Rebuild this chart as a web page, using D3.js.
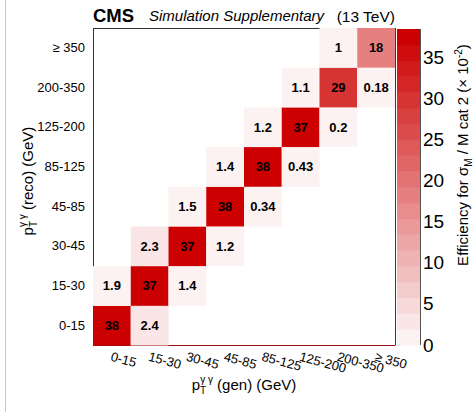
<!DOCTYPE html>
<html>
<head>
<meta charset="utf-8">
<script src="https://cdn.jsdelivr.net/npm/d3@7"></script>
<style>
  html, body { margin: 0; padding: 0; background: #fff; }
  svg { display: block; font-family: "Liberation Sans", Arial, Helvetica, sans-serif; }
</style>
</head>
<body>
<svg id="chart" width="474" height="412"></svg>
<script>
// ---- data ----
const genBins  = ["0-15", "15-30", "30-45", "45-85", "85-125", "125-200", "200-350", "\u2265 350"];
const recoBins = ["0-15", "15-30", "30-45", "45-85", "85-125", "125-200", "200-350", "\u2265 350"];
// efficiency (x 10^-2); rows = reco bins (bottom -> top), columns = gen bins
const row0 = [38, 2.4, 0, 0, 0, 0, 0, 0];
const row1 = [1.9, 37, 1.4, 0, 0, 0, 0, 0];
const row2 = [0, 2.3, 37, 1.2, 0, 0, 0, 0];
const row3 = [0, 0, 1.5, 38, 0.34, 0, 0, 0];
const row4 = [0, 0, 0, 1.4, 38, 0.43, 0, 0];
const row5 = [0, 0, 0, 0, 1.2, 37, 0.2, 0];
const row6 = [0, 0, 0, 0, 0, 1.1, 29, 0.18];
const row7 = [0, 0, 0, 0, 0, 0, 1, 18];
const efficiency = [row0, row1, row2, row3, row4, row5, row6, row7];
const colorTicks = [0, 5, 10, 15, 20, 25, 30, 35];
const zMax = 38.4;
const nLevels = 20;

// ---- layout ----
const svg = d3.select("#chart");
const L = 93, R = 395, T = 28, B = 345.5;
const cbL = 397, cbR = 420, cbT = 29, cbB = 345;

const x = d3.scaleBand().domain(genBins).range([L, R]).padding(0);
const y = d3.scaleBand().domain(recoBins).range([B, T]).padding(0);

const levelColors = d3.range(nLevels).map(i => d3.interpolateRgb("#ffffff", "#cc0000")((i + 1) / nLevels));
const color = d3.scaleQuantize().domain([0, zMax]).range(levelColors);

// faint page border line
svg.append("line").attr("x1", 5.5).attr("x2", 5.5).attr("y1", 0).attr("y2", 412)
  .attr("stroke", "#c8c8c8").attr("stroke-width", 1);

// frame
svg.append("line").attr("x1", L).attr("x2", R).attr("y1", T + 0.5).attr("y2", T + 0.5).attr("stroke", "#333");
svg.append("line").attr("x1", L + 0.5).attr("x2", L + 0.5).attr("y1", T).attr("y2", B).attr("stroke", "#333");
svg.append("line").attr("x1", L).attr("x2", R).attr("y1", B).attr("y2", B).attr("stroke", "#9a1010");
svg.append("line").attr("x1", R + 0.5).attr("x2", R + 0.5).attr("y1", T).attr("y2", B).attr("stroke", "#9a1010");

// cells
const cells = [];
efficiency.forEach((row, ri) => row.forEach((v, ci) => {
  if (v > 0) cells.push({ reco: recoBins[ri], gen: genBins[ci], v });
}));

svg.append("g").selectAll("rect").data(cells).join("rect")
  .attr("x", d => x(d.gen))
  .attr("y", d => y(d.reco))
  .attr("width", x.bandwidth())
  .attr("height", y.bandwidth())
  .attr("fill", d => color(d.v));

svg.append("g").selectAll("text").data(cells).join("text")
  .attr("x", d => x(d.gen) + x.bandwidth() / 2)
  .attr("y", d => y(d.reco) + y.bandwidth() / 2 + 4.5)
  .attr("text-anchor", "middle")
  .attr("font-size", 13).attr("font-weight", "bold").attr("fill", "#000")
  .text(d => d.v);

// y axis
const yAxis = svg.append("g").attr("transform", `translate(${L},0)`)
  .call(d3.axisLeft(y).tickSize(0).tickPadding(8));
yAxis.select(".domain").remove();
yAxis.selectAll("text").attr("font-size", 13).attr("fill", "#000")
  .attr("font-family", "Liberation Sans, Arial, sans-serif");

// x axis
const xAxis = svg.append("g").attr("transform", `translate(0,${B})`)
  .call(d3.axisBottom(x).tickSize(0));
xAxis.select(".domain").remove();
xAxis.selectAll(".tick text")
  .attr("font-size", 13).attr("fill", "#000")
  .attr("font-family", "Liberation Sans, Arial, sans-serif")
  .attr("text-anchor", "start")
  .attr("dy", null)
  .attr("y", 0)
  .attr("transform", "translate(-2,15) rotate(15)");

// axis titles
const xt = svg.append("text").attr("x", 244).attr("y", 390).attr("text-anchor", "middle")
  .attr("font-size", 15).attr("fill", "#000");
xt.append("tspan").text("p");
xt.append("tspan").attr("font-size", 10).attr("dy", 4).text("T");
xt.append("tspan").attr("font-size", 10).attr("dx", -6).attr("dy", -11).text("\u03b3 \u03b3");
xt.append("tspan").attr("dy", 7).text(" (gen) (GeV)");

const yt = svg.append("text").attr("transform", "translate(33,181) rotate(-90)").attr("text-anchor", "middle")
  .attr("font-size", 15).attr("fill", "#000");
yt.append("tspan").text("p");
yt.append("tspan").attr("font-size", 10).attr("dy", 4).text("T");
yt.append("tspan").attr("font-size", 10).attr("dx", -6).attr("dy", -11).text("\u03b3 \u03b3");
yt.append("tspan").attr("dy", 7).text(" (reco) (GeV)");

// colour bar
const z = d3.scaleLinear().domain([0, zMax]).range([cbB, cbT]);
const bands = d3.range(nLevels).map(i => ({ lo: i * zMax / nLevels, hi: (i + 1) * zMax / nLevels }));
svg.append("g").selectAll("rect").data(bands).join("rect")
  .attr("x", cbL).attr("width", cbR - cbL)
  .attr("y", d => z(d.hi)).attr("height", d => z(d.lo) - z(d.hi) + 0.5)
  .attr("fill", d => color((d.lo + d.hi) / 2));
svg.append("line").attr("x1", cbR + 0.5).attr("x2", cbR + 0.5).attr("y1", cbT).attr("y2", cbB)
  .attr("stroke", "#555");

const zAxis = svg.append("g").attr("transform", `translate(${cbR},0)`)
  .call(d3.axisRight(z).tickValues(colorTicks).tickSize(0).tickPadding(3));
zAxis.select(".domain").remove();
zAxis.selectAll("text").attr("font-size", 19).attr("fill", "#000")
  .attr("font-family", "Liberation Sans, Arial, sans-serif");

const zt = svg.append("text").attr("transform", "translate(468,155) rotate(-90)").attr("text-anchor", "middle")
  .attr("font-size", 15).attr("fill", "#000");
zt.append("tspan").text("Efficiency for \u03c3");
zt.append("tspan").attr("font-size", 10).attr("dy", 4).text("M");
zt.append("tspan").attr("dy", -4).text(" / M cat 2 (\u00d7 10");
zt.append("tspan").attr("font-size", 10).attr("dy", -6).text("-2");
zt.append("tspan").attr("dy", 6).text(")");

// header
svg.append("text").attr("x", 93).attr("y", 22).attr("font-size", 18.5).attr("font-weight", "bold")
  .attr("fill", "#000").text("CMS");
svg.append("text").attr("x", 149).attr("y", 21).attr("font-size", 15).attr("font-style", "italic")
  .attr("fill", "#000").text("Simulation Supplementary");
svg.append("text").attr("x", 395).attr("y", 22).attr("text-anchor", "end").attr("font-size", 15.5)
  .attr("fill", "#000").text("(13 TeV)");
</script>
</body>
</html>
